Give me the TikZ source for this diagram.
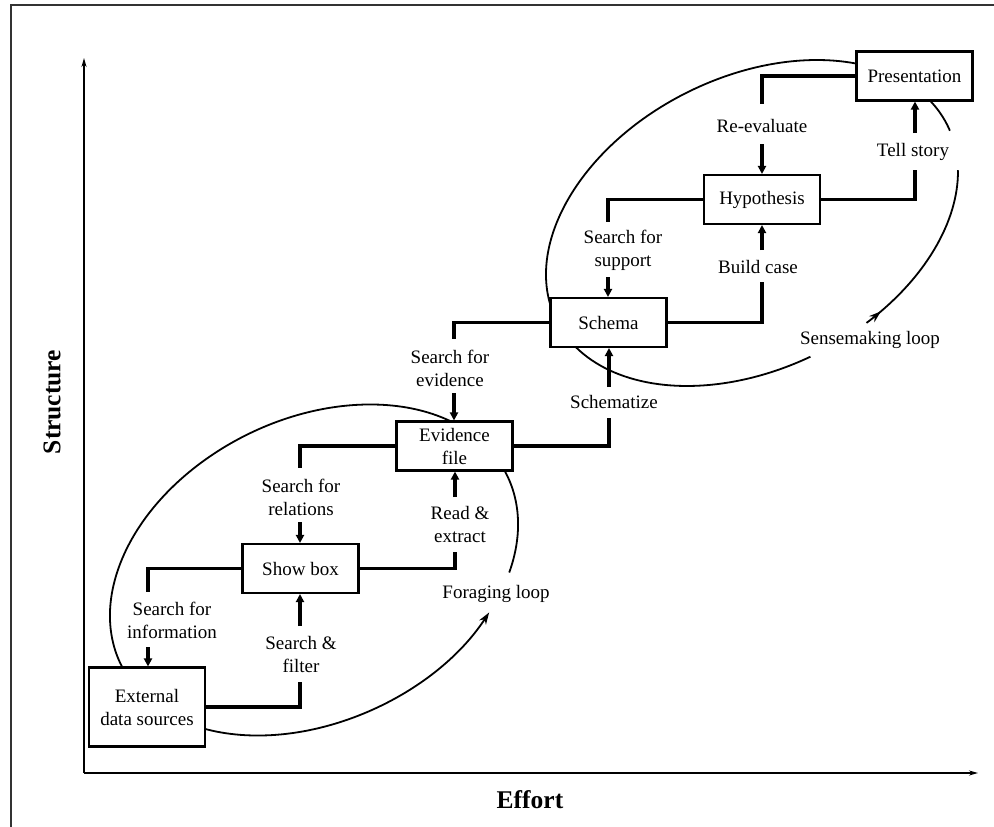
\documentclass[tikz,border=0pt]{standalone}
\usepackage{fontspec}
\setmainfont{Liberation Serif}
\usetikzlibrary{arrows.meta,calc,decorations.markings}

\newcommand{\lblfont}{\fontsize{19}{23}\selectfont}
\newcommand{\axisfont}{\fontsize{25.5}{28}\selectfont\bfseries}

\begin{document}
\begin{tikzpicture}[x=1pt,y=-1pt,
  box/.style={draw, line width=2.1pt, fill=white, minimum width=116pt,
    minimum height=49pt, align=center, inner sep=2pt, font=\lblfont},
  tag/.style={font=\lblfont, align=center, inner sep=0pt},
  link/.style={line width=3.3pt},
  flow/.style={line width=3.3pt, -{Triangle[length=8pt,width=8pt]}},
  axis/.style={line width=2.2pt, -{Stealth[length=9pt,width=5pt]}},
  loopline/.style={line width=1.8pt},
  looptip/.style={-{Stealth[length=12pt,width=8pt]}},
  frameline/.style={line width=2.6pt, draw=black!80},
]
\useasboundingbox (0,0) rectangle (994,827);

% outer frame (top and left edges)
\draw[frameline] (11,827) -- (11,5) -- (994,5);

% axes
\coordinate (origin) at (84,773);
\coordinate (ytip) at (84,58);
\coordinate (xtip) at (978,773);
\draw[axis] (origin) -- (ytip);
\draw[axis] (origin) -- (xtip);
\node[font=\axisfont] (effort) at (530,800) {Effort};
\node[font=\axisfont, rotate=90] (structure) at (52,402) {Structure};

% foraging loop
\begin{scope}[shift={(314,570)}, rotate=26.3]
  \draw[loopline, looptip] (-36:215pt and 151pt)
    arc[start angle=-36, end angle=310, x radius=215pt, y radius=151pt];
\end{scope}

% sensemaking loop
\begin{scope}[shift={(752,223)}, rotate=26.6]
  \draw[loopline] (-2.4:218.5pt and 145.8pt)
    arc[start angle=-2.4, end angle=268, x radius=218.5pt, y radius=145.8pt];
  \draw[loopline, postaction={decorate},
    decoration={markings, mark=at position 0.1 with {\arrow{Stealth[length=12pt,width=8pt]}}}]
    (-74.7:218.5pt and 145.8pt)
    arc[start angle=-74.7, end angle=-18, x radius=218.5pt, y radius=145.8pt];
\end{scope}

% stages
\node[box, minimum height=79pt] (ext) at (147,707) {External\\data sources};
\node[box] (show) at (300.5,568.5) {Show box};
\node[box] (evid) at (454.5,446) {Evidence\\file};
\node[box] (schema) at (608.5,322.5) {Schema};
\node[box] (hyp) at (762,199.5) {Hypothesis};
\node[box] (pres) at (914.5,76) {Presentation};

% step labels
\node[tag] (tfilter) at (301,654) {Search \&\\filter};
\node[tag] (tinfo) at (172,620) {Search for\\information};
\node[tag] (textract) at (460,524) {Read \&\\extract};
\node[tag] (trel) at (301,497) {Search for\\relations};
\node[tag] (tschem) at (614,402) {Schematize};
\node[tag] (tevid) at (450,368) {Search for\\evidence};
\node[tag] (tcase) at (758,267) {Build case};
\node[tag] (tsupp) at (623,250) {Search for\\support};
\node[tag] (tstory) at (913,152) {Tell story};
\node[tag] (treval) at (762,126) {Re-evaluate};
\node[tag] (tforage) at (496,594) {Foraging loop};
\node[tag] (tsense) at (870,340) {Sensemaking loop};

% connector ends beside the labels
\coordinate (a1) at (300,682);  \coordinate (b1) at (300,626);
\coordinate (a2) at (148,592);  \coordinate (b2) at (148,647);
\coordinate (a3) at (455,552);  \coordinate (b3) at (455,497);
\coordinate (a4) at (300,468);  \coordinate (b4) at (300,522);
\coordinate (a5) at (609,418);  \coordinate (b5) at (609,387);
\coordinate (a6) at (454,339);  \coordinate (b6) at (454,393);
\coordinate (a7) at (762,282);  \coordinate (b7) at (762,250);
\coordinate (a8) at (608,222);  \coordinate (b8) at (608,277);
\coordinate (a9) at (915,170);  \coordinate (b9) at (915,133);
\coordinate (a10) at (762,104); \coordinate (b10) at (762,144);

% upward steps
\draw[link] (ext.east) -| (a1);
\draw[flow] (b1) -- (b1 |- show.south);
\draw[link] (show.east) -| (a3);
\draw[flow] (b3) -- (b3 |- evid.south);
\draw[link] (evid.east) -| (a5);
\draw[flow] (b5) -- (b5 |- schema.south);
\draw[link] (schema.east) -| (a7);
\draw[flow] (b7) -- (b7 |- hyp.south);
\draw[link] (hyp.east) -| (a9);
\draw[flow] (b9) -- (b9 |- pres.south);

% downward steps
\draw[link] (show.west) -| (a2);
\draw[flow] (b2) -- (b2 |- ext.north);
\draw[link] (evid.west) -| (a4);
\draw[flow] (b4) -- (b4 |- show.north);
\draw[link] (schema.west) -| (a6);
\draw[flow] (b6) -- (b6 |- evid.north);
\draw[link] (hyp.west) -| (a8);
\draw[flow] (b8) -- (b8 |- schema.north);
\draw[link] (pres.west) -| (a10);
\draw[flow] (b10) -- (b10 |- hyp.north);
\end{tikzpicture}
\end{document}
